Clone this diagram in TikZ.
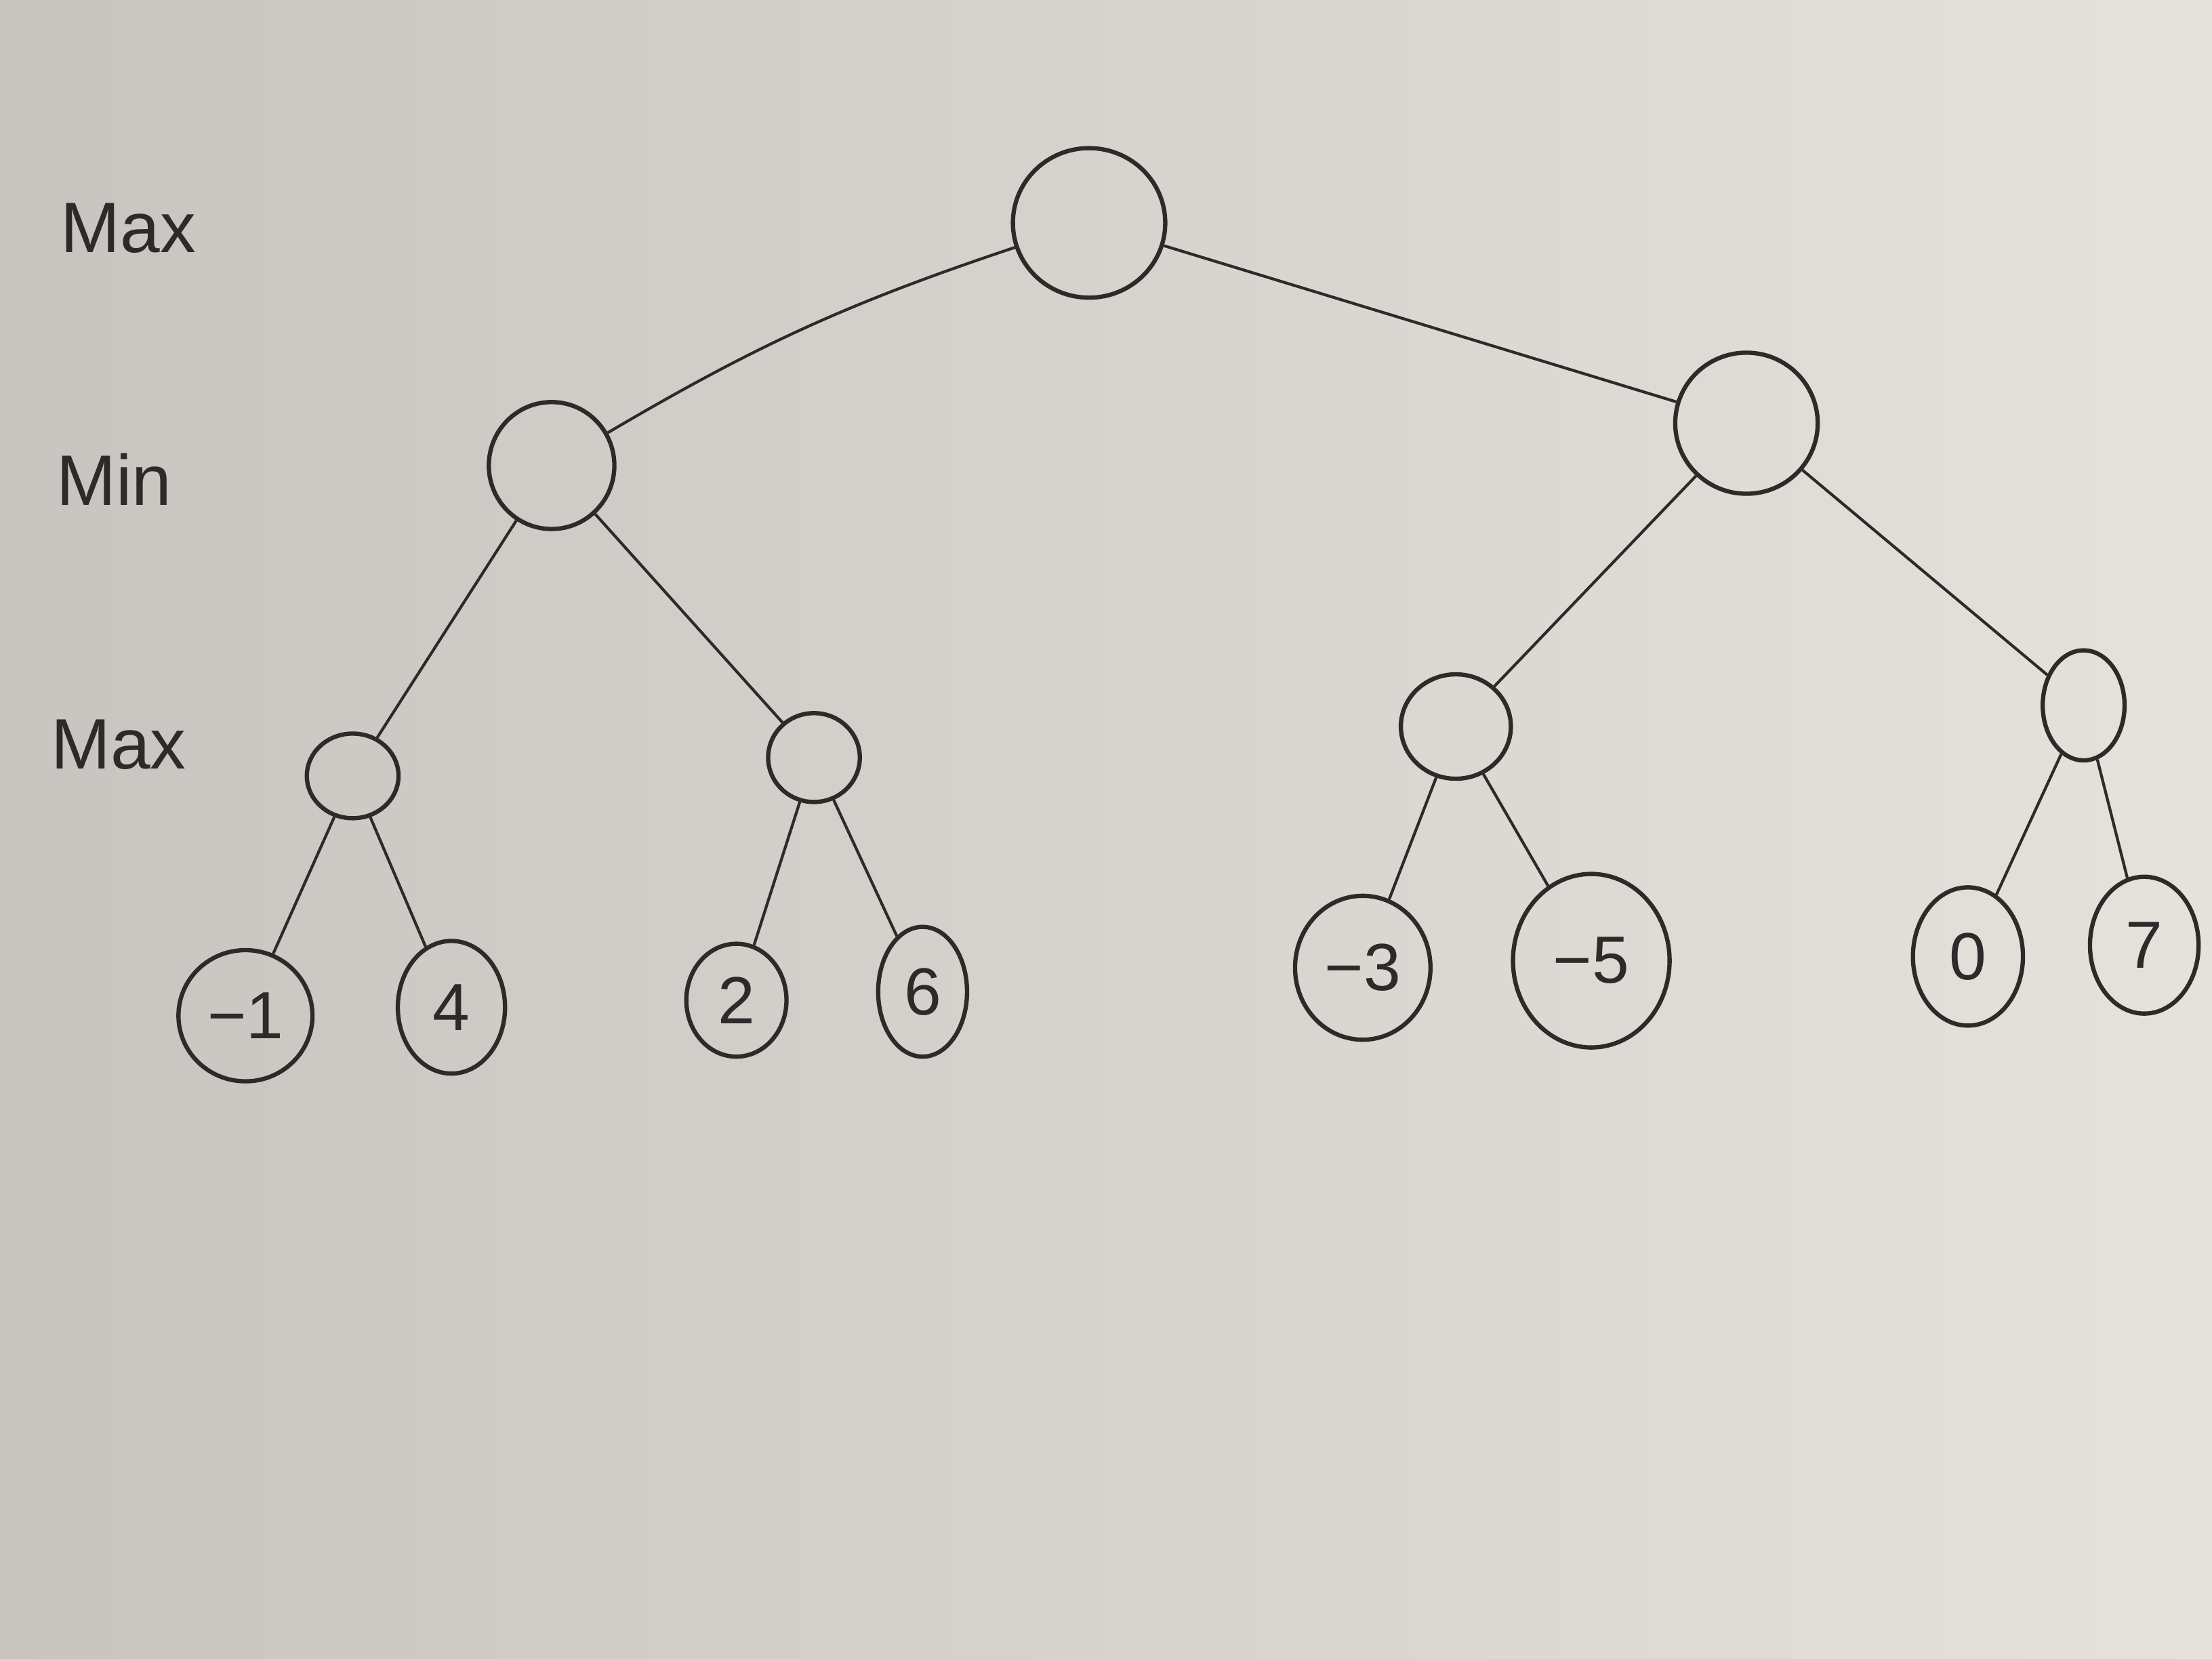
\documentclass[tikz,border=0pt]{standalone}
\usepackage{fontspec}
\setmainfont{Liberation Sans}
\usetikzlibrary{shapes.geometric}
\definecolor{paperL}{RGB}{200,197,192}
\definecolor{paperR}{RGB}{229,226,220}
\definecolor{ink}{RGB}{45,42,42}
\begin{document}
\begin{tikzpicture}[x=0.020816cm,y=-0.020816cm,
  vertex/.style={draw=ink,line width=1.8pt,ellipse,inner sep=0pt},
  sz/.style 2 args={minimum width=#1*0.020816cm,minimum height=#2*0.020816cm},
  edge/.style={draw=ink,line width=1.2pt},
  lvl/.style={text=ink,font=\fontsize{30}{36}\selectfont},
  val/.style={vertex,text=ink,font=\fontsize{28}{34}\selectfont}]
% paper
\shade[left color=paperL,right color=paperR] (0,0) rectangle (1568,1176);
\useasboundingbox (0,0) rectangle (1568,1176);

% level labels
\node[lvl] (l1) at (91,162) {Max};
\node[lvl] (l2) at (81,340) {Min};
\node[lvl] (l3) at (84,528) {Max};

% inner nodes
\node[vertex,sz={108}{106}] (root) at (772,158) {};
\node[vertex,sz={89}{90}] (minL) at (391,330) {};
\node[vertex,sz={101}{100}] (minR) at (1238,300) {};
\node[vertex,sz={65}{60}] (maxLL) at (250,550) {};
\node[vertex,sz={65}{63}] (maxLR) at (577,537) {};
\node[vertex,sz={78}{74}] (maxRL) at (1032,515) {};
\node[vertex,sz={58}{78}] (maxRR) at (1477,500) {};

% leaves
\node[val,sz={95}{93}] (a) at (174,720) {−1};
\node[val,sz={76}{94}] (b) at (320,714) {4};
\node[val,sz={71}{80}] (c) at (522,709) {2};
\node[val,sz={63}{92}] (d) at (654,703) {6};
\node[val,sz={96}{102}] (e) at (966,686) {−3};
\node[val,sz={111}{123}] (f) at (1128,681) {−5};
\node[val,sz={78}{98}] (g) at (1395,678) {0};
\node[val,sz={77}{97}] (h) at (1520,670) {7};

% connectors
\draw[edge] (root) to[bend right=6] (minL);
\draw[edge] (root) -- (minR);
\draw[edge] (minL) -- (maxLL);
\draw[edge] (minL) -- (maxLR);
\draw[edge] (minR) -- (maxRL);
\draw[edge] (minR) -- (maxRR);
\draw[edge] (maxLL) -- (a);
\draw[edge] (maxLL) -- (b);
\draw[edge] (maxLR) -- (c);
\draw[edge] (maxLR) -- (d);
\draw[edge] (maxRL) -- (e);
\draw[edge] (maxRL) -- (f);
\draw[edge] (maxRR) -- (g);
\draw[edge] (maxRR) -- (h);
\end{tikzpicture}
\end{document}
